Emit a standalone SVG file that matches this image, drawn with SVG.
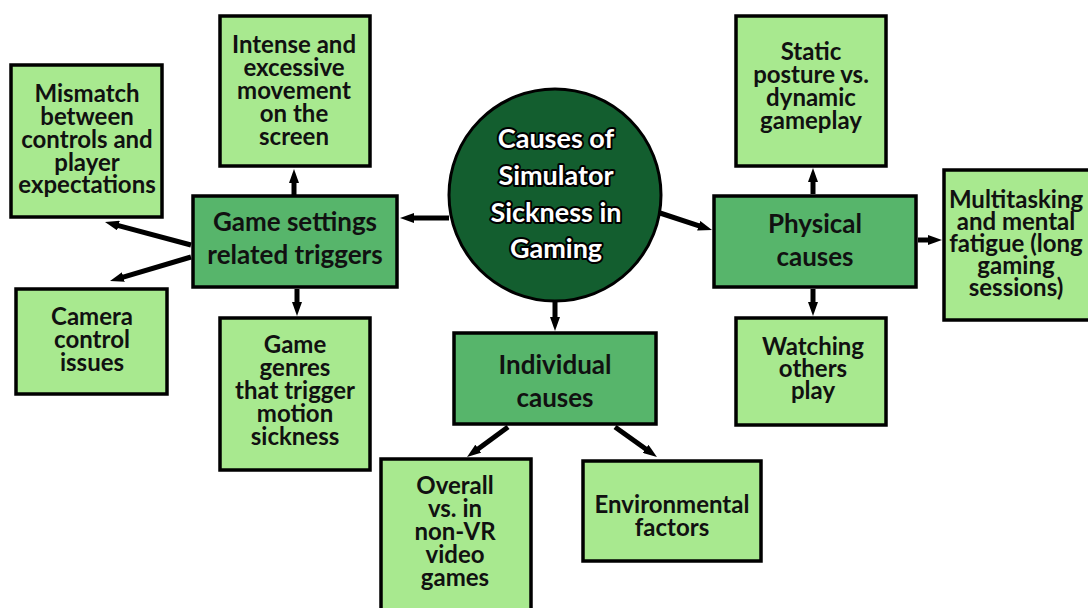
<svg xmlns="http://www.w3.org/2000/svg" width="1088" height="608" viewBox="0 0 1088 608">
<defs>
<style>
.leaf{fill:#a8e98f;stroke:#000;stroke-width:3.5}
.mid{fill:#57b56b;stroke:#000;stroke-width:3.5}
.core{fill:#135e2f;stroke:#000;stroke-width:3}
text{font-family:Lato,"Open Sans","Liberation Sans",sans-serif;font-weight:bold;text-anchor:middle;fill:#111}
.lt{font-size:24px}
.mt{font-size:26px}
.ct{font-size:27px;fill:#fff;stroke:#000;stroke-width:4;paint-order:stroke;stroke-linejoin:round}
.conn line{stroke:#000;stroke-width:5;marker-end:url(#ah)}
</style>
<marker id="ah" markerUnits="userSpaceOnUse" markerWidth="15" markerHeight="10" refX="2" refY="5" orient="auto">
<path d="M0,0 L14,5 L0,10 z" fill="#000"/>
</marker>
</defs>
<rect width="1088" height="608" fill="#fff"/>
<g class="conn" id="connectors">
<line x1="449" y1="218" x2="412" y2="218"/>
<line x1="294" y1="195" x2="294" y2="181"/>
<line x1="191" y1="245" x2="116.6" y2="225.1"/>
<line x1="191" y1="257" x2="121.5" y2="277.6"/>
<line x1="297" y1="289" x2="297" y2="304"/>
<line x1="660" y1="213" x2="700.6" y2="226.3"/>
<line x1="555" y1="302" x2="555" y2="319"/>
<line x1="813" y1="194" x2="813" y2="180"/>
<line x1="918" y1="240" x2="930" y2="240"/>
<line x1="813" y1="289" x2="813" y2="304"/>
<line x1="508" y1="427" x2="476.7" y2="449.9"/>
<line x1="615" y1="427" x2="647.2" y2="450"/>
</g>
<g id="core">
<circle class="core" cx="555" cy="195" r="106"/>
<text class="ct" x="556" y="148">Causes of</text>
<text class="ct" x="556" y="185">Simulator</text>
<text class="ct" x="556" y="222">Sickness in</text>
<text class="ct" x="556" y="258">Gaming</text>
</g>
<g id="game-settings">
<rect class="mid" x="193" y="196" width="204" height="91"/>
<text class="mt" x="295" y="231">Game settings</text>
<text class="mt" x="295" y="264">related triggers</text>
</g>
<g id="physical">
<rect class="mid" x="714" y="196" width="202" height="91"/>
<text class="mt" x="815" y="233">Physical</text>
<text class="mt" x="815" y="266">causes</text>
</g>
<g id="individual">
<rect class="mid" x="454" y="333" width="202" height="91"/>
<text class="mt" x="555" y="374">Individual</text>
<text class="mt" x="555" y="407">causes</text>
</g>
<g id="mismatch">
<rect class="leaf" x="11" y="65" width="151" height="152"/>
<text class="lt" x="87" y="102">Mismatch</text>
<text class="lt" x="87" y="125">between</text>
<text class="lt" x="87" y="148">controls and</text>
<text class="lt" x="87" y="171">player</text>
<text class="lt" x="87" y="193">expectations</text>
</g>
<g id="intense">
<rect class="leaf" x="220" y="16" width="150" height="150"/>
<text class="lt" x="294" y="53">Intense and</text>
<text class="lt" x="294" y="76">excessive</text>
<text class="lt" x="294" y="99">movement</text>
<text class="lt" x="294" y="122">on the</text>
<text class="lt" x="294" y="145">screen</text>
</g>
<g id="camera">
<rect class="leaf" x="16" y="289" width="151" height="105"/>
<text class="lt" x="92" y="325">Camera</text>
<text class="lt" x="92" y="348">control</text>
<text class="lt" x="92" y="371">issues</text>
</g>
<g id="genres">
<rect class="leaf" x="220" y="318" width="150" height="152"/>
<text class="lt" x="295" y="353">Game</text>
<text class="lt" x="295" y="376">genres</text>
<text class="lt" x="295" y="399">that trigger</text>
<text class="lt" x="295" y="422">motion</text>
<text class="lt" x="295" y="445">sickness</text>
</g>
<g id="overall">
<rect class="leaf" x="381" y="459" width="150" height="160"/>
<text class="lt" x="455" y="494">Overall</text>
<text class="lt" x="455" y="517">vs. in</text>
<text class="lt" x="455" y="540">non-VR</text>
<text class="lt" x="455" y="563">video</text>
<text class="lt" x="455" y="586">games</text>
</g>
<g id="environmental">
<rect class="leaf" x="583" y="461" width="178" height="100"/>
<text class="lt" x="672" y="513">Environmental</text>
<text class="lt" x="672" y="536">factors</text>
</g>
<g id="static">
<rect class="leaf" x="736" y="16" width="150" height="150"/>
<text class="lt" x="811" y="60">Static</text>
<text class="lt" x="811" y="83">posture vs.</text>
<text class="lt" x="811" y="106">dynamic</text>
<text class="lt" x="811" y="129">gameplay</text>
</g>
<g id="multitasking">
<rect class="leaf" x="944" y="170" width="150" height="150"/>
<text class="lt" x="1016" y="208">Multitasking</text>
<text class="lt" x="1016" y="230">and mental</text>
<text class="lt" x="1016" y="252">fatigue (long</text>
<text class="lt" x="1016" y="274">gaming</text>
<text class="lt" x="1016" y="296">sessions)</text>
</g>
<g id="watching">
<rect class="leaf" x="736" y="318" width="150" height="107"/>
<text class="lt" x="813" y="355">Watching</text>
<text class="lt" x="813" y="377">others</text>
<text class="lt" x="813" y="399">play</text>
</g>
</svg>
